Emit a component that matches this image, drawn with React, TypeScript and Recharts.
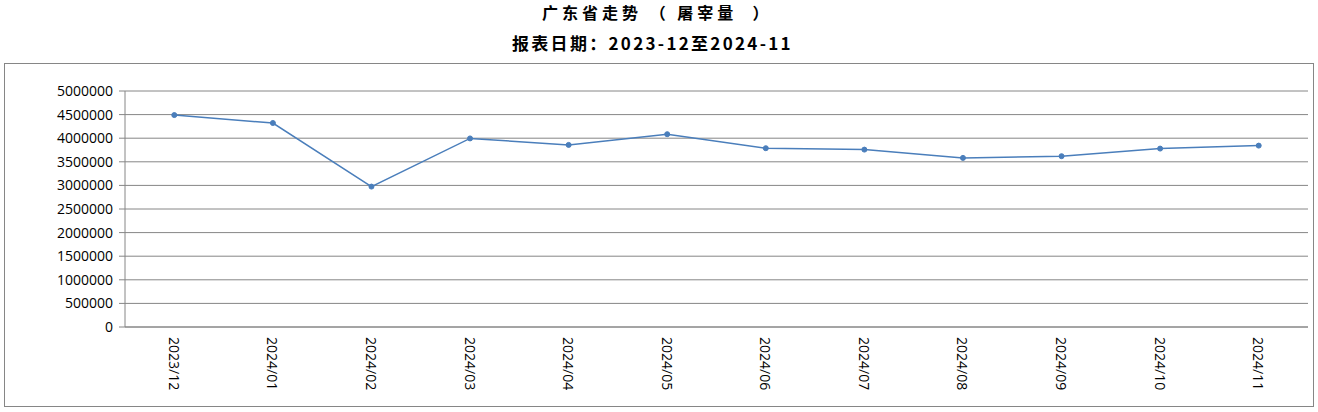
import React from 'react';
import { LineChart, Line, XAxis, YAxis, CartesianGrid } from 'recharts';

const months = [
  '2023/12', '2024/01', '2024/02', '2024/03', '2024/04', '2024/05',
  '2024/06', '2024/07', '2024/08', '2024/09', '2024/10', '2024/11',
];
const slaughter = [
  4490000, 4322000, 2975000, 3995000, 3858000, 4085000,
  3788000, 3758000, 3583000, 3619000, 3780000, 3843000,
];
const yTicks = [0, 500000, 1000000, 1500000, 2000000, 2500000, 3000000, 3500000, 4000000, 4500000, 5000000];

const boundaryTicks = months.map((_, i) => i).concat(months.length);
const centerTicks = months.map((_, i) => i + 0.5);

const chartData = months.map((m, i) => ({ x: i + 0.5, month: m, value: slaughter[i] }));

const GRAY = '#868686';
const BLUE = '#4a7ebb';

const MonthTick = (props: any) => {
  const { x, y, payload } = props;
  const idx = Math.floor(payload.value);
  return (
    <text
      x={x}
      y={y}
      transform={`rotate(90, ${x}, ${y})`}
      textAnchor="start"
      dominantBaseline="central"
      fontFamily="'Open Sans', sans-serif"
      fontSize={14}
      fill="#000"
    >
      {months[idx]}
    </text>
  );
};

export default function App() {
  return (
    <div style={{ position: 'absolute', left: 0, top: 0, width: 1318, height: 412, background: '#fff' }}>
      <div
        style={{
          position: 'absolute', left: 542, top: 1,
          fontFamily: "'Noto Sans CJK SC', sans-serif", fontWeight: 700, fontSize: 16,
          letterSpacing: 4, whiteSpace: 'pre', lineHeight: '22px',
        }}
      >
        {'广东省走势 （ 屠宰量  ）'}
      </div>
      <div
        style={{
          position: 'absolute', left: 512, top: 31,
          fontFamily: "'Noto Sans CJK SC', sans-serif", fontWeight: 700, fontSize: 17,
          letterSpacing: 2.3, whiteSpace: 'pre', lineHeight: '24px',
        }}
      >
        报表日期：2023-12至2024-11
      </div>
      <div
        style={{
          position: 'absolute', left: 4, top: 63, width: 1308, height: 342,
          border: `1px solid ${GRAY}`,
        }}
      />
      <div style={{ position: 'absolute', left: 0, top: 0 }}>
        <LineChart
          width={1318}
          height={412}
          data={chartData}
          margin={{ top: 91, right: 10, bottom: 19, left: 55 }}
        >
          <CartesianGrid xAxisId="b" vertical={false} stroke={GRAY} strokeWidth={1} />
          <XAxis
            xAxisId="b"
            dataKey="x"
            type="number"
            domain={[0, 12]}
            ticks={boundaryTicks}
            tick={false}
            height={6}
            tickSize={6}
            axisLine={{ stroke: GRAY }}
            tickLine={{ stroke: GRAY }}
          />
          <XAxis
            xAxisId="l"
            dataKey="x"
            type="number"
            domain={[0, 12]}
            ticks={centerTicks}
            tick={<MonthTick />}
            height={60}
            tickSize={0}
            tickMargin={4}
            axisLine={false}
            tickLine={false}
          />
          <YAxis
            type="number"
            domain={[0, 5000000]}
            ticks={yTicks}
            width={70}
            tickSize={6}
            tickMargin={6}
            axisLine={{ stroke: GRAY }}
            tickLine={{ stroke: GRAY }}
            tick={{ fill: '#000', fontSize: 14, fontFamily: "'Open Sans', sans-serif" }}
            interval={0}
          />
          <Line
            xAxisId="b"
            type="linear"
            dataKey="value"
            stroke={BLUE}
            strokeWidth={1.5}
            dot={{ r: 2.5, fill: BLUE, stroke: BLUE, strokeWidth: 1 }}
            isAnimationActive={false}
          />
        </LineChart>
      </div>
    </div>
  );
}
